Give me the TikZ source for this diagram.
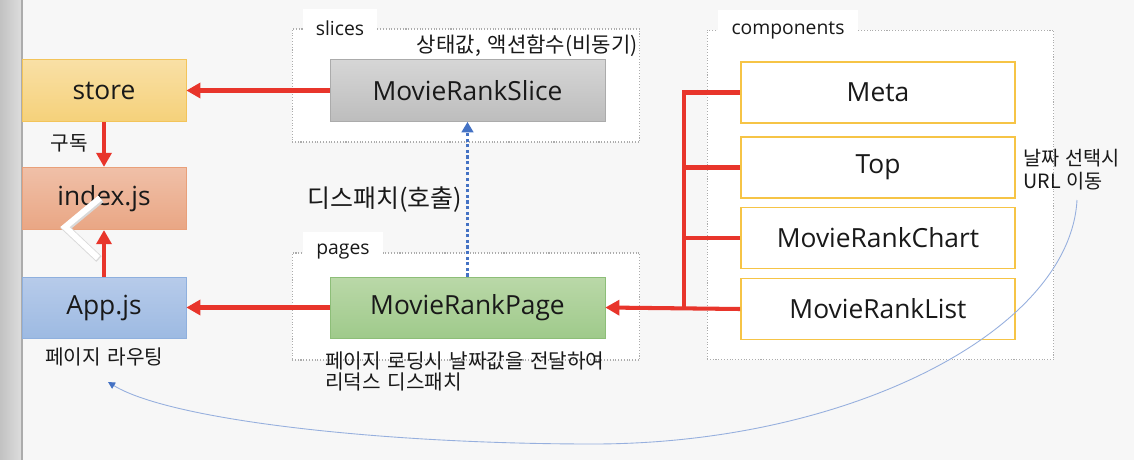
\documentclass[tikz,border=0pt]{standalone}
\usepackage{fontspec}
\setmainfont{Open Sans}
\newfontfamily\kr[WordSpace=1.4]{Noto Sans CJK KR}
\usetikzlibrary{arrows.meta,calc}

\definecolor{bgcol}{RGB}{247,247,247}
\definecolor{arrred}{RGB}{232,53,43}
\definecolor{dotblue}{RGB}{68,114,196}
\definecolor{curveblue}{RGB}{150,175,222}
\definecolor{compborder}{RGB}{246,196,70}

\begin{document}
\begin{tikzpicture}[x=0.02cm,y=-0.02cm,
  box/.style={draw,inner sep=0pt,font=\fontsize{15}{18}\selectfont,text=black!90},
  leftbox/.style={box,minimum width=3.28cm,minimum height=1.25cm},
  midbox/.style={box,minimum width=5.5cm,minimum height=1.24cm},
  compbox/.style={box,draw=compborder,fill=white,line width=1.1pt,minimum width=5.48cm,minimum height=1.22cm},
  group/.style={draw=gray!65,densely dotted,fill=white,line width=0.6pt,inner sep=0pt},
  tab/.style={fill=white,inner sep=0pt,font=\fontsize{11}{13}\selectfont,text=black!90},
  note/.style={inner sep=0pt,align=left,font={\kr\fontsize{11.5}{12.5}\selectfont},text=black!90},
  redline/.style={draw=arrred,line width=2.3pt},
  redarrow/.style={redline,-{Triangle[length=8pt,width=8.5pt]}},
  dotarrow/.style={draw=dotblue,line width=1.8pt,dash pattern=on 1.8pt off 1.4pt,-{Triangle[length=6pt,width=6.6pt]}}]

  \useasboundingbox (0,0) rectangle (1134,460);
  \fill[bgcol] (0,0) rectangle (1134,460);
  \fill[left color=gray!48,right color=gray!26] (0,0) rectangle (22,460);
  \draw[gray!65,line width=0.8pt] (22,0) -- (22,460);

  % folders
  \node[group,minimum width=6.96cm,minimum height=2.26cm] (slicesgrp) at (466,85.5) {};
  \node[group,minimum width=6.96cm,minimum height=2.14cm] (pagesgrp) at (466,306.5) {};
  \node[group,minimum width=6.94cm,minimum height=6.6cm] (compgrp) at (880.5,195) {};
  \node[tab,minimum width=1.48cm,minimum height=0.76cm] (slicestab) at (340,28) {slices};
  \node[tab,minimum width=1.6cm,minimum height=0.8cm] (pagestab) at (343,252) {pages};
  \node[tab,minimum width=2.8cm,minimum height=0.8cm] (comptab) at (788,30) {components};

  % left column
  \node[leftbox,draw={rgb,255:red,243;green,196;blue,90},top color={rgb,255:red,249;green,224;blue,166},bottom color={rgb,255:red,245;green,209;blue,122}] (store) at (104,90.5) {store};
  \node[leftbox,draw={rgb,255:red,233;green,160;blue,122},top color={rgb,255:red,240;green,192;blue,168},bottom color={rgb,255:red,233;green,166;blue,132}] (index) at (104,198.5) {index.js};
  \node[leftbox,minimum height=1.22cm,draw={rgb,255:red,143;green,176;blue,222},top color={rgb,255:red,183;green,203;blue,234},bottom color={rgb,255:red,157;green,186;blue,226}] (app) at (104,307.5) {App.js};

  % slice and page
  \node[midbox,draw={rgb,255:red,171;green,171;blue,171},top color={rgb,255:red,214;green,214;blue,214},bottom color={rgb,255:red,189;green,189;blue,189}] (slice) at (467.5,90.5) {MovieRankSlice};
  \node[midbox,minimum height=1.22cm,draw={rgb,255:red,141;green,190;blue,120},top color={rgb,255:red,186;green,216;blue,168},bottom color={rgb,255:red,159;green,202;blue,139}] (page) at (467.5,307.5) {MovieRankPage};

  % components
  \node[compbox] (meta) at (878,92.5) {Meta};
  \node[compbox] (top) at (878,167.5) {Top};
  \node[compbox] (chart) at (878,238) {MovieRankChart};
  \node[compbox] (list) at (878,309) {MovieRankList};

  % connectors
  \draw[redarrow] (slice.west) -- (store.east);
  \draw[redarrow] (page.west) -- (app.east);
  \draw[redarrow] (store.south) -- (index.north);
  \draw[redarrow] (app.north) -- (index.south);
  \coordinate (bus) at ($(list.west)+(-56,0)$);
  \draw[redline] (meta.west) -| (bus);
  \draw[redline] (top.west) -- (top.west -| bus);
  \draw[redline] (chart.west) -- (chart.west -| bus);
  \draw[redarrow] (list.west) -- (page.east);
  \draw[dotarrow] (page.north) -- (slice.south);

  % notes
  \node[note] (subnote) at (69,143) {구독};
  \node[note,anchor=west] (routenote) at (45,357) {페이지 라우팅};
  \node[note,anchor=east,font={\kr\fontsize{12}{14}\selectfont}] (statenote) at (638,46) {상태값, 액션함수(비동기)};
  \node[note,anchor=west,font={\kr\fontsize{14.2}{16}\selectfont}] (dispnote) at (307,200) {디스패치(호출)};
  \node[note,anchor=west,font={\kr\fontsize{11.5}{12}\selectfont}] (loadnote) at (325,371) {페이지 로딩시 날짜값을 전달하여\\리덕스 디스패치};
  \node[note,anchor=west,font={\kr\fontsize{11.2}{13}\selectfont}] (urlnote) at (1023,170) {날짜 선택시\\URL 이동};

  % page back
  \coordinate (curvefrom) at (1077,200);
  \coordinate (curveto) at (108,382);
  \draw[curveblue,line width=0.5pt,-{Triangle[length=4pt,width=4pt,color=dotblue]}] (curvefrom) .. controls (1070,330) and (850,444) .. (593,444) .. controls (380,444) and (170,420) .. (curveto);

  % slider chevron
  \draw[gray!30,line width=4.4pt] (101,199) -- (66,228) -- (99,259);
  \draw[white,line width=3.4pt] (100,198) -- (65,227) -- (98,258);
\end{tikzpicture}
\end{document}
